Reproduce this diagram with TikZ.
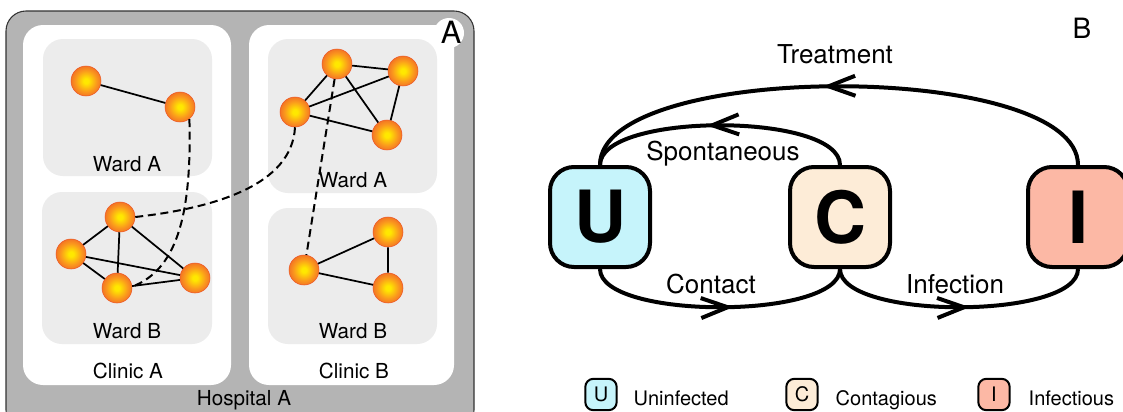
\documentclass[tikz,border=0pt]{standalone}
\usepackage{fontspec}
\setmainfont{TeX Gyre Heros}
\usepackage{tikz}
\usetikzlibrary{arrows.meta}
\usetikzlibrary{decorations.markings}

\definecolor{hospitalgray}{RGB}{180,180,180}
\definecolor{wardgray}{RGB}{236,236,236}
\definecolor{uninfected}{RGB}{198,244,251}
\definecolor{contagious}{RGB}{253,236,215}
\definecolor{infectious}{RGB}{252,184,165}
\definecolor{ballcore}{RGB}{255,232,0}
\definecolor{ballmid}{RGB}{250,150,30}
\definecolor{ballrim}{RGB}{236,88,40}
\pgfdeclareradialshading{orb}{\pgfpoint{0bp}{0bp}}{color(0bp)=(ballcore); color(4bp)=(ballcore); color(18bp)=(ballmid); color(32bp)=(ballrim); color(50bp)=(ballrim)}

\tikzset{
% Define mid-path arrow tip
midarrow/.style={postaction={decorate, decoration={markings,
  mark=at position #1 with {\arrow{Straight Barb[length=20pt, width=15pt]}}}}}
}

\begin{document}
\begin{tikzpicture}[x=0.75pt, y=-0.75pt,
  patient/.style={circle, shade, shading=orb, draw=ballrim, line width=0.4pt, minimum size=22.5pt, inner sep=0},
  link/.style={line width=1.3pt},
  transfer/.style={dash pattern=on 6pt off 3.5pt, line width=1.5pt},
  statebox/.style={rectangle, rounded corners=18pt, draw=black, line width=3pt, minimum size=75pt, inner sep=0, font=\bfseries\fontsize{54}{54}\selectfont},
  legendbox/.style={rectangle, rounded corners=6pt, draw=black, line width=1.5pt, minimum size=23.5pt, inner sep=0, font=\fontsize{15}{15}\selectfont},
  flowline/.style={line width=3pt},
  wardtext/.style={anchor=base, font=\fontsize{15.5}{18}\selectfont},
  flowtext/.style={anchor=base, font=\fontsize{19.5}{22}\selectfont},
  legendtext/.style={anchor=base west, font=\fontsize{15}{18}\selectfont}]
  \useasboundingbox (0,0) rectangle (1123,411);
  \clip (0,0) rectangle (1123,411);

  % panel A: hospital, clinics, wards
  \draw[fill=hospitalgray, draw=black!80, line width=0.8pt, rounded corners=15pt] (6,11) rectangle (474,430);
  \fill[white, rounded corners=15pt] (23,25) rectangle (231,385);
  \fill[white, rounded corners=15pt] (249,25) rectangle (454,385);
  \fill[wardgray, rounded corners=15pt] (43,39) rectangle (212,176);
  \fill[wardgray, rounded corners=15pt] (42,192) rectangle (212,344);
  \fill[wardgray, rounded corners=15pt] (268,39) rectangle (437,193);
  \fill[wardgray, rounded corners=15pt] (268,208) rectangle (437,344);
  \node[circle, fill=white, minimum size=22.5pt, inner sep=0] (dotA) at (449,33) {};
  \node[anchor=base, font=\fontsize{23}{23}\selectfont] (panelA) at (451,43) {A};

  \node[wardtext] (wardAAtext) at (127,171) {Ward A};
  \node[wardtext] (wardABtext) at (127,338) {Ward B};
  \node[wardtext] (wardBAtext) at (353,187) {Ward A};
  \node[wardtext] (wardBBtext) at (353,338) {Ward B};
  \node[wardtext] (clinicAtext) at (128,378) {Clinic A};
  \node[wardtext] (clinicBtext) at (354,378) {Clinic B};
  \node[wardtext] (hospitaltext) at (244,405) {Hospital A};

  % patients
  \node[patient] (a1) at (86,81) {};
  \node[patient] (a2) at (180,107) {};
  \node[patient] (b1) at (120,217) {};
  \node[patient] (b2) at (71,254) {};
  \node[patient] (b3) at (117,288) {};
  \node[patient] (b4) at (195,278) {};
  \node[patient] (c1) at (337,64) {};
  \node[patient] (c2) at (403,71) {};
  \node[patient] (c3) at (295,112) {};
  \node[patient] (c4) at (387,135) {};
  \node[patient] (d1) at (388,232) {};
  \node[patient] (d2) at (304,270) {};
  \node[patient] (d3) at (388,288) {};

  \draw[link] (a1) -- (a2);
  \draw[link] (b1) -- (b2) (b1) -- (b3) (b1) -- (b4) (b2) -- (b3) (b2) -- (b4) (b3) -- (b4);
  \draw[link] (c1) -- (c2) (c1) -- (c3) (c1) -- (c4) (c2) -- (c3) (c2) -- (c4) (c3) -- (c4);
  \draw[link] (d1) -- (d2) (d1) -- (d3) (d2) -- (d3);

  % transfers between wards
  \draw[transfer] (a2.-52) .. controls (192,220) and (175,270) .. (b3.5);
  \draw[transfer] (b1.east) .. controls (215,208) and (292,185) .. (c3.south);
  \draw[transfer] (c1) -- (d2);

  % panel B: states
  \node[statebox, fill=uninfected] (U) at (600,217) {U};
  \node[statebox, fill=contagious] (C) at (840,217) {C};
  \node[statebox, fill=infectious] (I) at (1078,217) {I};
  \node[anchor=base, font=\fontsize{21}{21}\selectfont] (panelB) at (1082,38) {B};

  \draw[flowline, midarrow=0.53] (I.north) .. controls (1078,60) and (600,60) .. (U.north);
  \draw[flowline, midarrow=0.55] (C.north) .. controls (840,112) and (600,112) .. (U.north);
  \draw[flowline, midarrow=0.55] (U.south) .. controls (600,320) and (840,320) .. (C.south);
  \draw[flowline, midarrow=0.54] (C.south) .. controls (840,320) and (1078,320) .. (I.south);

  \node[flowtext] (treatment) at (835,63) {Treatment};
  \node[flowtext] (spontaneous) at (723,160) {Spontaneous};
  \node[flowtext] (contact) at (711,293) {Contact};
  \node[flowtext] (infection) at (955,293) {Infection};

  % legend
  \node[legendbox, fill=uninfected] (keyU) at (601,394.5) {U};
  \node[legendtext] (keyUtext) at (629,405) {Uninfected};
  \node[legendbox, fill=contagious] (keyC) at (802,394.5) {C};
  \node[legendtext] (keyCtext) at (831,405) {Contagious};
  \node[legendbox, fill=infectious] (keyI) at (994,394.5) {I};
  \node[legendtext] (keyItext) at (1024,405) {Infectious};
\end{tikzpicture}
\end{document}
